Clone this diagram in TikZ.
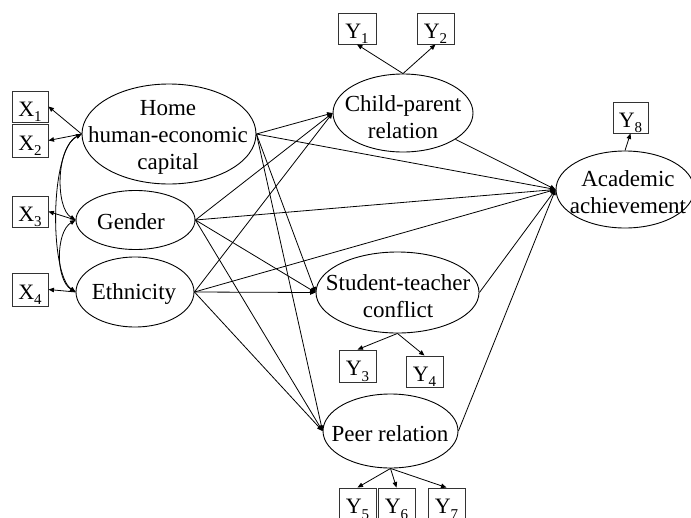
\documentclass[tikz,border=0pt]{standalone}
\usepackage{fontspec}
\setmainfont{Liberation Serif}
\usetikzlibrary{shapes.geometric,arrows.meta}
\newcommand\sbx[1]{\raisebox{-5.5pt}{\fontsize{15}{15}\selectfont #1}}
\begin{document}
\begin{tikzpicture}[x=1pt,y=-1pt,
  lat/.style={draw, ellipse, inner sep=0pt, line width=0.9pt},
  lbl/.style={align=center, font=\fontsize{23}{27}\selectfont, inner sep=0pt},
  obs/.style={draw, line width=0.9pt, draw=black!80, inner sep=0pt, minimum width=37pt, minimum height=31pt, text height=24pt, text depth=5pt, font=\fontsize{22}{22}\selectfont},
  tip/.tip={Triangle[length=5.5pt,width=4.5pt]},
  arr/.style={-tip, line width=0.8pt},
  darr/.style={tip-tip, line width=0.8pt}]
\useasboundingbox (0,0) rectangle (691,517);
% latent ellipses
\node[lat, minimum width=174pt, minimum height=100pt] (hh) at (169,134) {};
\node[lbl] (hht) at (168,137) {Home\\human-economic\\capital};
\node[lat, minimum width=119pt, minimum height=59pt] (ge) at (135.5,220) {};
\node[lbl] (get) at (131,222) {Gender};
\node[lat, minimum width=118pt, minimum height=70pt] (et) at (135,292) {};
\node[lbl] (ett) at (134,294) {Ethnicity};
\node[lat, minimum width=140pt, minimum height=78pt] (cp) at (403,113) {};
\node[lbl] (cpt) at (403,117) {Child-parent\\relation};
\node[lat, minimum width=163pt, minimum height=81pt] (st) at (397.5,292.5) {};
\node[lbl] (stt) at (398,296) {Student-teacher\\conflict};
\node[lat, minimum width=135pt, minimum height=74pt] (pr) at (390.5,431) {};
\node[lbl] (prt) at (390,434) {Peer relation};
\node[lat, minimum width=138pt, minimum height=77pt] (ac) at (625,189.5) {};
\node[lbl] (act) at (628,192) {Academic\\achievement};
% observed boxes
\node[obs, minimum width=36pt] (x1) at (30,106.5) {X\sbx{1}};
\node[obs, minimum width=36pt, minimum height=33pt] (x2) at (30,140.5) {X\sbx{2}};
\node[obs, minimum width=36pt] (x3) at (30,211.5) {X\sbx{3}};
\node[obs, minimum width=36pt, minimum height=33pt] (x4) at (30,289.5) {X\sbx{4}};
\node[obs, minimum width=38pt] (y1) at (357,28.5) {Y\sbx{1}};
\node[obs] (y2) at (435.5,28.5) {Y\sbx{2}};
\node[obs, minimum width=35pt] (y8) at (630.5,117.5) {Y\sbx{8}};
\node[obs, minimum height=32pt] (y3) at (357.5,366) {Y\sbx{3}};
\node[obs, minimum height=31pt] (y4) at (424.5,371.5) {Y\sbx{4}};
\node[obs, minimum height=32pt] (y5) at (357.5,504) {Y\sbx{5}};
\node[obs, minimum height=32pt] (y6) at (396.5,504) {Y\sbx{6}};
\node[obs, minimum height=32pt] (y7) at (446.5,504) {Y\sbx{7}};
% measurement arrows
\draw[arr] (hh.west) -- (x1.east);
\draw[arr] (hh.west) -- (x2.east);
\draw[arr] (ge.west) -- (x3.east);
\draw[arr] (et.west) -- (x4.east);
\draw[arr] (cp.north) -- (y1.south);
\draw[arr] (cp.north) -- (y2.south);
\draw[arr] (st.south) -- (y3.north);
\draw[arr] (st.south) -- (y4.north);
\draw[arr] (pr.south) -- (y5.north);
\draw[arr] (pr.south) -- (y6.north);
\draw[arr] (pr.south) -- (y7.north);
\draw[arr] (ac.north) -- (y8.south);
% correlations
\draw[darr] (hh.west) .. controls +(-26,14) and +(-20,-12) .. (ge.west);
\draw[darr] (hh.west) .. controls +(-32,16) and +(-26,-18) .. (et.west);
\draw[darr] (ge.west) .. controls +(-20,12) and +(-20,-12) .. (et.west);
% structural paths
\foreach \s in {hh,ge,et}{
  \draw[arr] (\s.east) -- (cp.west);
  \draw[arr] (\s.east) -- (ac.west);
  \draw[arr] (\s.east) -- (st.west);
  \draw[arr] (\s.east) -- (pr.west);
}
\draw[arr] (cp) -- (ac.west);
\draw[arr] (st.east) -- (ac.west);
\draw[arr] (pr.east) -- (ac.west);
\end{tikzpicture}
\end{document}
